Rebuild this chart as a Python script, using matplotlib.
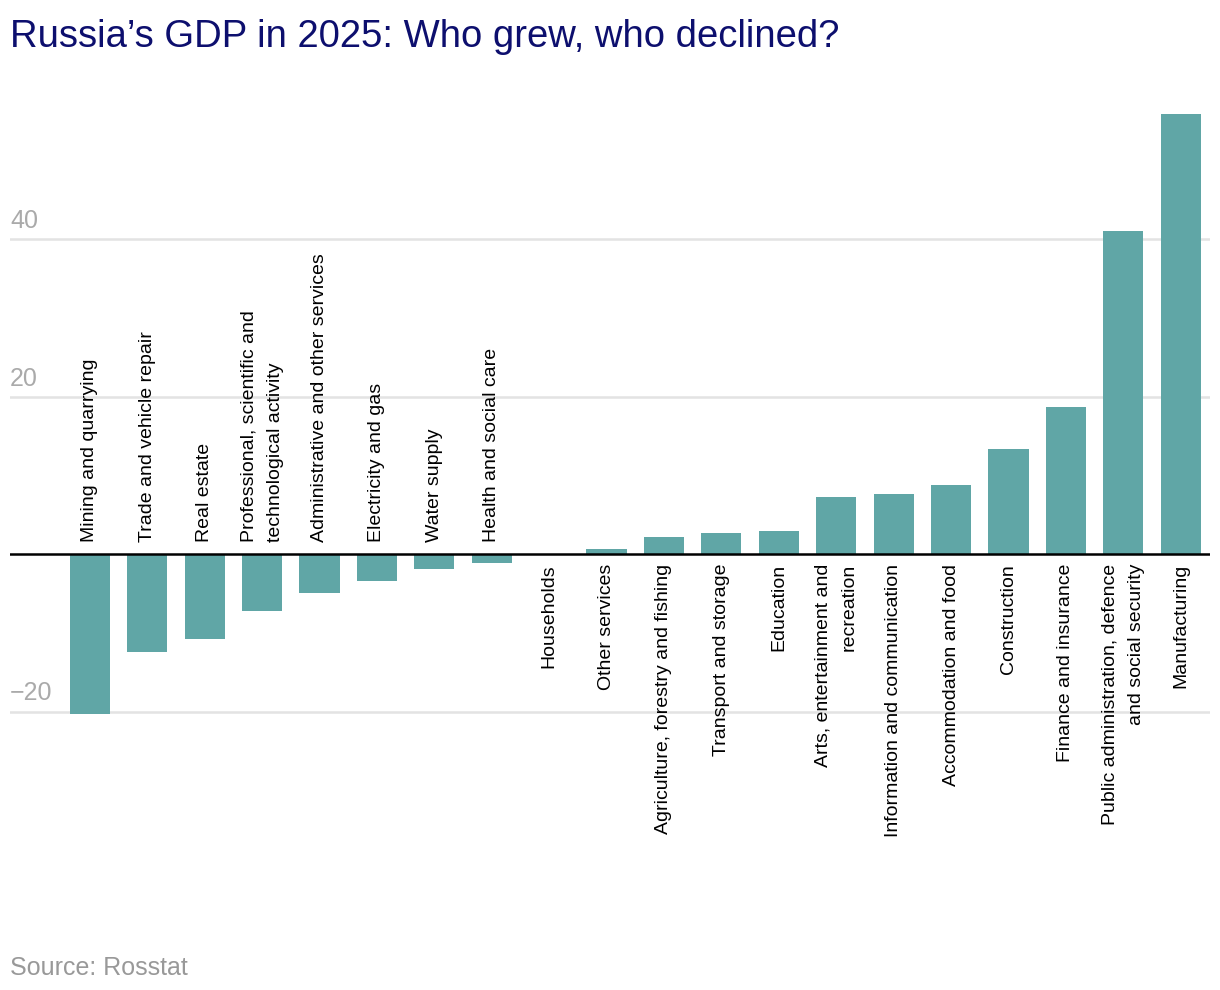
import matplotlib.pyplot as plt

# sectors sorted by change, %
sectors = [
    "Mining and quarrying",
    "Trade and vehicle repair",
    "Real estate",
    "Professional, scientific and\ntechnological activity",
    "Administrative and other services",
    "Electricity and gas",
    "Water supply",
    "Health and social care",
    "Households",
    "Other services",
    "Agriculture, forestry and fishing",
    "Transport and storage",
    "Education",
    "Arts, entertainment and\nrecreation",
    "Information and communication",
    "Accommodation and food",
    "Construction",
    "Finance and insurance",
    "Public administration, defence\nand social security",
    "Manufacturing",
]
growth = [-20.3, -12.5, -10.8, -7.3, -4.9, -3.4, -1.9, -1.2, 0.0, 0.6,
          2.2, 2.7, 2.9, 7.2, 7.6, 8.8, 13.3, 18.7, 41.0, 55.9]
yticks = [-20, 20, 40]

FONT = ['Liberation Sans', 'DejaVu Sans']
BAR = '#60a6a6'

W, H = 1220, 990
fig = plt.figure(figsize=(W / 100, H / 100), dpi=100)
ax = fig.add_axes([10 / W, (H - 750.875) / H, 1200 / W, (750.875 - 97.25) / H])

x = list(range(len(sectors)))
ax.bar(x, growth, width=0.7, color=BAR, zorder=2)
ax.set_xlim(-1.39, 19.51)
ax.set_ylim(-25, 58)

# gridlines + labels sitting above them
for t in yticks:
    ax.axhline(t, color='#e3e3e3', lw=1.8, zorder=1)
    ax.annotate(str(t).replace('-', '\u2212'), xy=(0, t), xycoords=('axes fraction', 'data'),
                xytext=(0, 6), textcoords='offset pixels', ha='left', va='bottom',
                fontsize=18, color='#aaaaaa', family=FONT)
ax.axhline(0, color='black', lw=1.8, zorder=3)

# category labels next to the zero line
for i, (name, v) in enumerate(zip(sectors, growth)):
    if v < 0:
        ax.annotate(name, xy=(i, 0), xytext=(0, 12), textcoords='offset pixels',
                    rotation=90, ha='center', va='bottom', multialignment='left',
                    linespacing=1.75, fontsize=14, family=FONT, color='black')
    else:
        ax.annotate(name, xy=(i, 0), xytext=(0, -10), textcoords='offset pixels',
                    rotation=90, ha='center', va='top', multialignment='right',
                    linespacing=1.75, fontsize=14, family=FONT, color='black')

ax.axis('off')

fig.text(10 / W, 1 - 47 / H, "Russia\u2019s GDP in 2025: Who grew, who declined?",
         ha='left', va='baseline', fontsize=27.5, color='#0d0f6e', family=FONT)
fig.text(10 / W, 1 - 975 / H, "Source: Rosstat", ha='left', va='baseline',
         fontsize=18, color='#999999', family=FONT)

fig.savefig('out.png', dpi=100, facecolor='white')
